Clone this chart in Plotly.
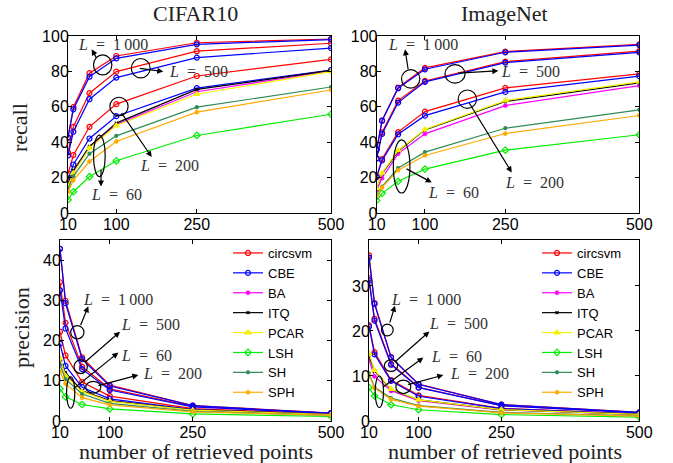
import plotly.graph_objects as go

# ---------------- data ----------------
X = [10, 20, 50, 100, 250, 500]
X_TICKS = [10, 100, 250, 500]

# CIFAR10 recall
cif_rec_circsvm_1000 = [42.5, 59.8, 79.0, 88.7, 96.2, 98.3]
cif_rec_circsvm_500 = [34.2, 48.7, 67.7, 79.9, 91.4, 95.9]
cif_rec_circsvm_200 = [22.2, 32.7, 48.7, 61.5, 77.4, 86.8]
cif_rec_cbe_1000 = [42.7, 58.6, 77.0, 87.4, 95.3, 98.0]
cif_rec_cbe_500 = [32.5, 45.9, 64.3, 76.5, 87.8, 93.2]
cif_rec_cbe_200 = [18.8, 27.4, 42.1, 54.7, 70.5, 80.8]
cif_rec_ba = [16.0, 23.0, 37.0, 50.0, 68.5, 80.3]
cif_rec_itq = [17.0, 24.0, 37.6, 50.8, 69.8, 80.6]
cif_rec_pcar = [15.4, 22.5, 36.7, 49.4, 67.1, 79.9]
cif_rec_lsh = [7.5, 12.0, 20.5, 29.5, 43.8, 55.8]
cif_rec_sh = [13.7, 20.7, 33.5, 43.6, 59.8, 71.2]
cif_rec_sph = [11.8, 18.5, 29.1, 40.4, 57.0, 69.5]

# ImageNet recall
img_rec_circsvm_1000 = [36.3, 52.3, 70.9, 82.0, 91.2, 95.3]
img_rec_circsvm_500 = [31.0, 45.5, 63.5, 74.6, 85.5, 91.5]
img_rec_circsvm_200 = [20.7, 30.5, 45.7, 57.3, 70.7, 78.6]
img_rec_cbe_1000 = [35.7, 52.1, 70.5, 81.2, 90.8, 94.9]
img_rec_cbe_500 = [30.8, 44.7, 62.4, 74.1, 85.0, 90.8]
img_rec_cbe_200 = [20.3, 29.7, 44.5, 55.0, 68.4, 77.3]
img_rec_ba = [12.8, 19.7, 33.5, 44.7, 60.7, 72.0]
img_rec_itq = [13.7, 22.2, 34.8, 47.0, 63.0, 73.5]
img_rec_pcar = [13.9, 22.6, 35.3, 47.2, 63.5, 74.1]
img_rec_lsh = [7.1, 11.1, 17.9, 24.8, 35.5, 44.2]
img_rec_sh = [10.3, 14.9, 25.4, 34.4, 47.9, 58.3]
img_rec_sph = [9.8, 14.5, 24.2, 32.5, 44.9, 55.1]

# CIFAR10 precision
cif_pre_circsvm_1000 = [42.8, 29.9, 15.8, 8.9, 3.85, 1.97]
cif_pre_circsvm_500 = [34.5, 24.4, 13.5, 8.0, 3.66, 1.92]
cif_pre_circsvm_200 = [22.2, 16.3, 9.7, 6.2, 3.10, 1.74]
cif_pre_cbe_1000 = [42.8, 29.3, 15.4, 8.7, 3.81, 1.96]
cif_pre_cbe_500 = [32.5, 23.0, 12.9, 7.7, 3.51, 1.86]
cif_pre_cbe_200 = [19.2, 13.7, 8.4, 5.5, 2.82, 1.62]
cif_pre_ba = [15.0, 11.5, 7.4, 5.0, 2.74, 1.61]
cif_pre_itq = [15.2, 12.0, 7.5, 5.1, 2.79, 1.61]
cif_pre_pcar = [15.6, 11.2, 7.3, 4.9, 2.68, 1.60]
cif_pre_lsh = [8.0, 6.0, 4.1, 3.0, 1.75, 1.12]
cif_pre_sh = [13.9, 10.4, 6.7, 4.4, 2.39, 1.42]
cif_pre_sph = [12.3, 9.3, 5.8, 4.0, 2.28, 1.39]

# ImageNet precision
img_pre_circsvm_1000 = [36.8, 26.2, 14.2, 8.2, 3.65, 1.91]
img_pre_circsvm_500 = [31.7, 22.7, 12.7, 7.5, 3.42, 1.83]
img_pre_circsvm_200 = [21.3, 15.3, 9.1, 5.7, 2.83, 1.57]
img_pre_cbe_1000 = [36.3, 26.0, 14.1, 8.1, 3.63, 1.90]
img_pre_cbe_500 = [31.3, 22.3, 12.5, 7.4, 3.40, 1.82]
img_pre_cbe_200 = [21.0, 14.8, 8.9, 5.5, 2.74, 1.55]
img_pre_ba = [13.6, 9.9, 6.7, 4.5, 2.43, 1.44]
img_pre_itq = [14.5, 11.1, 7.0, 4.7, 2.52, 1.47]
img_pre_pcar = [15.0, 11.3, 7.1, 4.7, 2.54, 1.48]
img_pre_lsh = [7.4, 5.6, 3.6, 2.5, 1.42, 0.88]
img_pre_sh = [10.6, 7.5, 5.1, 3.4, 1.92, 1.17]
img_pre_sph = [10.2, 7.3, 4.8, 3.3, 1.80, 1.10]

METHODS = ["circsvm", "CBE", "BA", "ITQ", "PCAR", "LSH", "SH", "SPH"]

panels = {
    "cif_rec": {
        "circsvm": [cif_rec_circsvm_1000, cif_rec_circsvm_500, cif_rec_circsvm_200],
        "CBE": [cif_rec_cbe_1000, cif_rec_cbe_500, cif_rec_cbe_200],
        "BA": [cif_rec_ba], "ITQ": [cif_rec_itq], "PCAR": [cif_rec_pcar],
        "LSH": [cif_rec_lsh], "SH": [cif_rec_sh], "SPH": [cif_rec_sph]},
    "img_rec": {
        "circsvm": [img_rec_circsvm_1000, img_rec_circsvm_500, img_rec_circsvm_200],
        "CBE": [img_rec_cbe_1000, img_rec_cbe_500, img_rec_cbe_200],
        "BA": [img_rec_ba], "ITQ": [img_rec_itq], "PCAR": [img_rec_pcar],
        "LSH": [img_rec_lsh], "SH": [img_rec_sh], "SPH": [img_rec_sph]},
    "cif_pre": {
        "circsvm": [cif_pre_circsvm_1000, cif_pre_circsvm_500, cif_pre_circsvm_200],
        "CBE": [cif_pre_cbe_1000, cif_pre_cbe_500, cif_pre_cbe_200],
        "BA": [cif_pre_ba], "ITQ": [cif_pre_itq], "PCAR": [cif_pre_pcar],
        "LSH": [cif_pre_lsh], "SH": [cif_pre_sh], "SPH": [cif_pre_sph]},
    "img_pre": {
        "circsvm": [img_pre_circsvm_1000, img_pre_circsvm_500, img_pre_circsvm_200],
        "CBE": [img_pre_cbe_1000, img_pre_cbe_500, img_pre_cbe_200],
        "BA": [img_pre_ba], "ITQ": [img_pre_itq], "PCAR": [img_pre_pcar],
        "LSH": [img_pre_lsh], "SH": [img_pre_sh], "SPH": [img_pre_sph]},
}

# ---------------- styles ----------------
STYLE = {
    "circsvm": dict(color="#ff0000", symbol="circle-open", size=5),
    "CBE": dict(color="#0000ff", symbol="circle-open", size=5),
    "BA": dict(color="#ff00ff", symbol="asterisk-open", size=4),
    "ITQ": dict(color="#000000", symbol="x-thin-open", size=3),
    "PCAR": dict(color="#f2f200", symbol="triangle-up", size=5),
    "LSH": dict(color="#00ee00", symbol="diamond-open", size=5),
    "SH": dict(color="#2e8b57", symbol="circle", size=3),
    "SPH": dict(color="#ffaa00", symbol="asterisk-open", size=4),
}

W, H = 673, 463


def px_dom(a, b):
    return [a / W, b / W]


def py_dom(top, bottom):
    return [1 - bottom / H, 1 - top / H]


AX = {
    "cif_rec": ("x", "y", "legend", False),
    "img_rec": ("x2", "y2", "legend", False),
    "cif_pre": ("x3", "y3", "legend", True),
    "img_pre": ("x4", "y4", "legend2", True),
}

fig = go.Figure()

for pname, (xa, ya, leg, showleg) in AX.items():
    data = panels[pname]
    for m in METHODS:
        st = STYLE[m]
        for i, ys in enumerate(data[m]):
            fig.add_trace(go.Scatter(
                x=X, y=ys, xaxis=xa, yaxis=ya, mode="lines+markers",
                name=m, legendgroup=pname + m, legend=leg,
                showlegend=(showleg and i == 0),
                line=dict(color=st["color"], width=1.2),
                marker=dict(symbol=st["symbol"], size=st["size"], color=st["color"],
                            line=dict(color=st["color"], width=1.2)),
            ))

tick_font = dict(family="Liberation Sans, Arial, sans-serif", size=16, color="black")
axis_common = dict(showline=True, linecolor="black", linewidth=1, mirror="ticks",
                   ticks="inside", ticklen=4, tickcolor="black", showgrid=False,
                   zeroline=False, tickfont=tick_font, automargin=False)
xax = dict(range=[10, 500], tickvals=X_TICKS, ticklabelstandoff=-3, **axis_common)
yax = dict(ticklabelstandoff=-5, **axis_common)
legend_common = dict(xanchor="left", yanchor="top", bgcolor="rgba(255,255,255,0)",
                     borderwidth=0, traceorder="normal", tracegroupgap=0, itemwidth=30,
                     font=dict(family="Liberation Sans, Arial, sans-serif", size=13, color="black"))

layout = dict(
    template="none",
    width=W, height=H, margin=dict(l=0, r=0, t=0, b=0, pad=0, autoexpand=False),
    paper_bgcolor="white", plot_bgcolor="white", showlegend=True,
    xaxis=dict(domain=px_dom(68, 331), anchor="y", **xax),
    yaxis=dict(domain=py_dom(36, 213), range=[0, 100], tickvals=[0, 20, 40, 60, 80, 100], anchor="x", **yax),
    xaxis2=dict(domain=px_dom(376.7, 639.3), anchor="y2", **xax),
    yaxis2=dict(domain=py_dom(36, 213), range=[0, 100], tickvals=[0, 20, 40, 60, 80, 100], anchor="x2", **yax),
    xaxis3=dict(domain=px_dom(60, 331), anchor="y3", **xax),
    yaxis3=dict(domain=py_dom(240, 421), range=[0, 45], tickvals=[0, 10, 20, 30, 40], anchor="x3", **yax),
    xaxis4=dict(domain=px_dom(369, 639.3), anchor="y4", **xax),
    yaxis4=dict(domain=py_dom(240, 421), range=[0, 40.2], tickvals=[0, 10, 20, 30], anchor="x4", **yax),
    legend=dict(x=228 / W, y=1 - 238 / H, **legend_common),
    legend2=dict(x=537 / W, y=1 - 238 / H, **legend_common),
)
fig.update_layout(**layout)

# ---------------- titles / axis labels ----------------
serif = "Liberation Serif, Times New Roman, serif"
texts = [
    ("CIFAR10", 195 / W, 1 - 14 / H, 0),
    ("ImageNet", 504 / W, 1 - 14 / H, 0),
    ("recall", 19 / W, 1 - 128 / H, -90),
    ("precision", 21 / W, 1 - 328 / H, -90),
    ("number of retrieved points", 196 / W, 1 - 451 / H, 0),
    ("number of retrieved points", 505 / W, 1 - 451 / H, 0),
]
for t, x, y, ang in texts:
    fig.add_annotation(text=t, x=x, y=y, xref="paper", yref="paper", showarrow=False,
                       xanchor="center", yanchor="middle", textangle=ang,
                       font=dict(family=serif, size=22, color="#222"))

# ---------------- L annotations (ellipse, arrow tail, arrow head, label) ----------------
L_NOTES = {
    ("x", "y"): [
        ("1\u2009000", (57.5, 91.7, 78.0, 89.3), (64.6, 86.8), (54.1, 92.5), (93, 95.3)),
        ("500", (128, 163, 76.3, 87.3), (141, 81.8), (187.6, 79.9), (254, 79.9)),
        ("200", (88, 122, 55.0, 65.4), (108, 57.3), (166, 31.6), (200, 26.7)),
        ("60", (57.5, 79.3, 20.6, 44.0), (71.5, 25.4), (71.5, 15.0), (101, 10.7)),
    ],
    ("x2", "y2"): [
        ("1\u2009000", (56.3, 90.5, 70.6, 81.0), (69, 80.5), (62.9, 92.5), (96, 95.3)),
        ("500", (137.4, 174.8, 73.4, 83.8), (159.3, 79.0), (237, 80.3), (297, 79.9)),
        ("200", (162, 196.3, 59.1, 69.5), (181, 63.0), (262, 22.9), (304, 17.3)),
        ("60", (41, 72, 11.3, 41.3), (62.9, 25.4), (112.6, 17.3), (154, 11.7)),
    ],
    ("x3", "y3"): [
        ("1\u2009000", (29.3, 53.3, 20.4, 23.7), (46.2, 23.5), (61.2, 28.5), (114, 30.1)),
        ("500", (35.4, 59.4, 11.8, 15.2), (53.4, 14.4), (118.5, 22.2), (174, 24.1)),
        ("60", (21.8, 36.8, 3.2, 11.0), (31.7, 7.7), (115.4, 17.0), (167, 16.3)),
        ("200", (56.6, 83.8, 6.95, 9.85), (76.9, 8.7), (151.6, 11.45), (213, 11.7)),
    ],
    ("x4", "y4"): [
        ("1\u2009000", (32.6, 53.8, 18.9, 21.5), (46.9, 21.5), (57.1, 25.6), (114, 26.9)),
        ("500", (37.8, 62.0, 11.0, 13.6), (54.1, 12.8), (119.4, 19.9), (173, 21.6)),
        ("60", (21.1, 36.3, 3.0, 10.0), (33.0, 7.3), (108.5, 14.1), (168, 14.3)),
        ("200", (58.6, 85.8, 6.1, 9.1), (78.3, 8.0), (144.7, 10.2), (211, 10.6)),
    ],
}

for (xa, ya), notes in L_NOTES.items():
    for lab, (x0, x1, y0, y1), tail, head, tpos in notes:
        fig.add_shape(type="circle", xref=xa, yref=ya, x0=x0, x1=x1, y0=y0, y1=y1,
                      line=dict(color="black", width=1.2), fillcolor="rgba(0,0,0,0)")
        fig.add_annotation(x=head[0], y=head[1], ax=tail[0], ay=tail[1], xref=xa, yref=ya,
                           axref=xa, ayref=ya, text="", showarrow=True, arrowhead=2,
                           arrowsize=1, arrowwidth=1.2, arrowcolor="black", standoff=0)
        fig.add_annotation(x=tpos[0], y=tpos[1], xref=xa, yref=ya, showarrow=False,
                           text="<i>L</i>\u00a0\u00a0=\u00a0\u00a0" + lab,
                           xanchor="center", yanchor="middle",
                           font=dict(family=serif, size=16, color="#333"))

fig.write_html("out.html", config={"displayModeBar": False},
               post_script="document.body.style.margin='0px';document.body.style.overflow='hidden';")
